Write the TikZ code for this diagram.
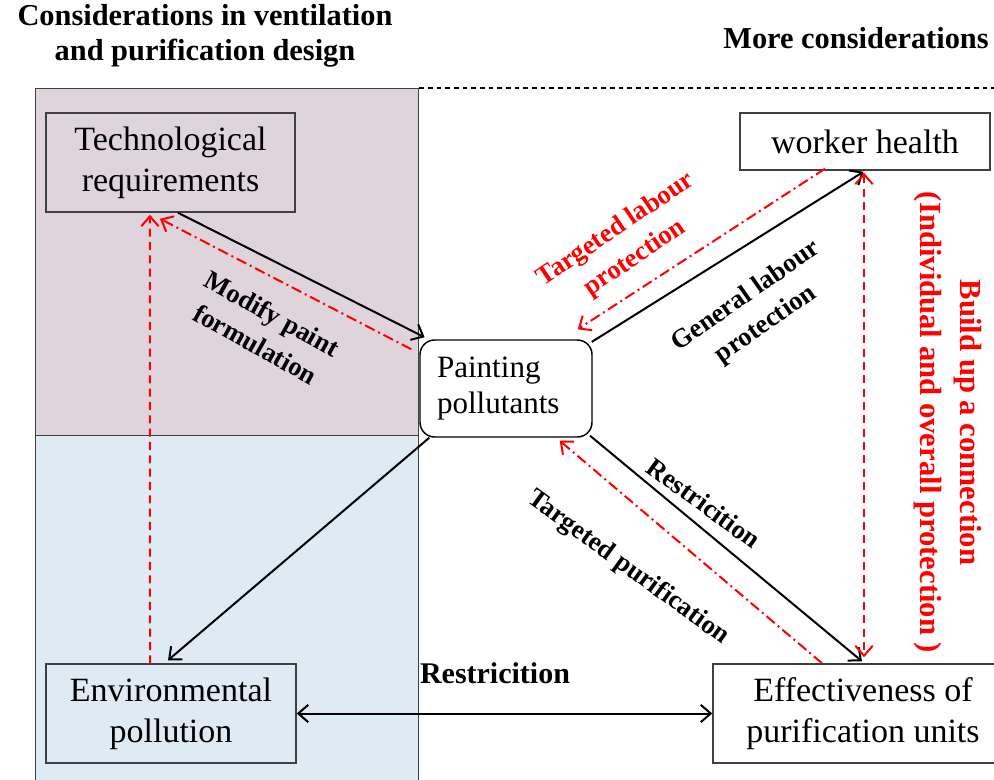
\documentclass[tikz,border=0pt]{standalone}
\usepackage{fontspec}
\setmainfont{Liberation Serif}
\usetikzlibrary{arrows.meta}
\definecolor{techzone}{HTML}{DFD3DC}
\definecolor{envzone}{HTML}{DEEBF5}
\tikzset{
	box/.style={draw=black!75, line width=1.1pt, align=center, inner sep=0pt,
		font=\fontsize{25.5}{30.75}\selectfont},
	zone/.style={draw=black!75, line width=1.1pt, inner sep=0pt, anchor=north west,
		minimum width=287.25pt, minimum height=260.25pt},
	lbl/.style={align=center, font=\bfseries\fontsize{20}{26}\selectfont},
	dashdot/.style={red, dash pattern=on 8pt off 3pt on 1.5pt off 3pt},
	reddash/.style={red, dash pattern=on 6pt off 4pt},
}

\begin{document}
\begin{tikzpicture}[x=0.75pt, y=-0.75pt, line width=1.5pt,
	>={Straight Barb[length=7.5pt,width=13pt]}]
		\useasboundingbox (0,0) rectangle (994,780);
		
		\node[zone, fill=techzone] (upper) at (35,88) {};
		\node[zone, fill=envzone] (lower) at (35,435) {};
		\coordinate (edge) at (994,88);
		\draw[line width=0.8pt, dash pattern=on 3.5pt off 3pt] (upper.north east) -- (edge);
		
		\node[align=center, font=\bfseries\fontsize{22.8}{26.25}\selectfont] (lefttitle) at (205,35.5) {Considerations in ventilation\\and purification design};
		\node[font=\bfseries\fontsize{22.8}{26.25}\selectfont] (righttitle) at (856,38) {More considerations};
		
		\node[box, minimum width=186.75pt, minimum height=74.25pt] (tech) at (170.5,162.5) {Technological\\requirements};
		\node[box, minimum width=187.5pt, minimum height=74.25pt] (env) at (171,713.5) {Environmental\\pollution};
		\node[box, fill=white, minimum width=187.5pt, minimum height=42.75pt] (worker) at (865,141.5) {worker health};
		\node[box, fill=white, minimum width=225pt, minimum height=74.25pt] (effect) at (863,713.5) {Effectiveness of\\purification units};
		\node[box, draw=black, fill=white, rounded corners=11pt, align=left, text width=103.5pt, inner xsep=12.75pt,
			minimum height=72.75pt, font=\fontsize{23.3}{27}\selectfont] (paint) at (506,388.5) {Painting\\pollutants};
		
		\draw[->] ([xshift=5.6pt]tech.south) -- ([xshift=4pt,yshift=1.5pt]paint.north west);
		\draw[->, dashdot] ([xshift=-6pt,yshift=-7.5pt]paint.north west) -- ([xshift=-7.9pt,yshift=-4.5pt]tech.south);
		\draw[->, reddash] ([xshift=-15.75pt]env.north) -- ([xshift=-15.4pt,yshift=-1.5pt]tech.south);
		\draw[->] ([xshift=7.5pt]paint.south west) -- ([xshift=-2.25pt,yshift=2.25pt]env.north);
		
		\draw[->] ([xshift=-0.75pt,yshift=-2pt]paint.north east) -- ([xshift=-1.1pt,yshift=-0.75pt]worker.south);
		\draw[->, dashdot] ([xshift=-30pt,yshift=1.5pt]worker.south) -- ([xshift=-11.25pt,yshift=7.5pt]paint.north east);
		\draw[->] ([xshift=-2pt,yshift=1.5pt]paint.south east) -- ([xshift=-0.75pt,yshift=1.5pt]effect.north);
		\draw[->, dashdot] ([xshift=-30.75pt]effect.north) -- ([xshift=-24.75pt,yshift=-2.25pt]paint.south east);
		\draw[<->, reddash] ([xshift=-0.75pt,yshift=-1.5pt]worker.south) -- ([xshift=0.75pt,yshift=4.5pt]effect.north);
		\draw[<->] (env.east) -- (effect.west);
		
		\node[lbl, rotate=-29] (modify) at (264,329) {Modify paint\\formulation};
		\node[lbl, red, rotate=34] (targetlabour) at (625.5,244) {Targeted labour\\protection};
		\node[lbl, rotate=35] (generallabour) at (756,310.5) {General labour\\protection};
		\node[lbl, rotate=-36] (restrictunits) at (704,503) {Restricition};
		\node[lbl, rotate=-36] (targetpurif) at (628,568) {Targeted purification};
		\node[lbl, font=\bfseries\fontsize{22.5}{26}\selectfont] (restrictenv) at (495,673) {Restricition};
		\node[lbl, red, rotate=-90, font=\bfseries\fontsize{23}{30}\selectfont] (connection) at (948,422.5) {Build up a connection\\(Individual and overall protection )};
	\end{tikzpicture}
\end{document}
